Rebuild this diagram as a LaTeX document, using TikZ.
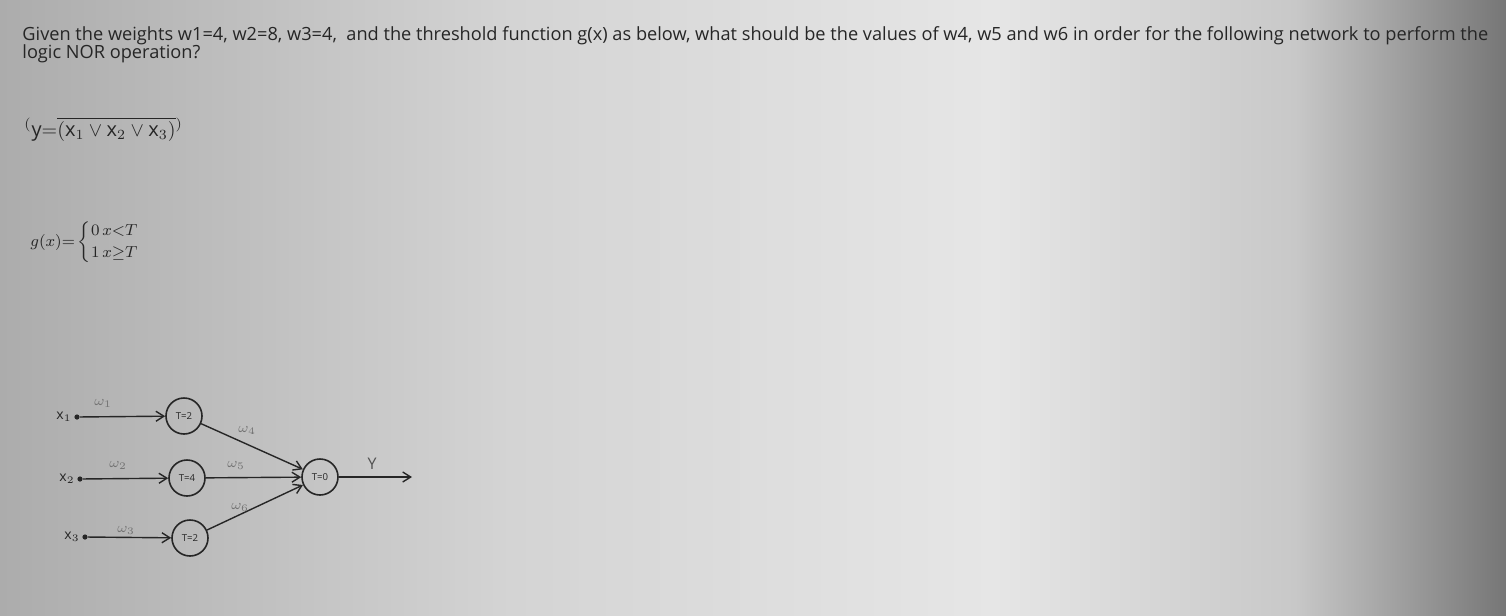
\documentclass[tikz,border=0pt]{standalone}
\usepackage{amsmath,amssymb}
\usepackage{fontspec}
\setmainfont{Open Sans}
\usetikzlibrary{positioning,arrows.meta}

\definecolor{bgleft}{RGB}{172,172,172}
\definecolor{bgmid}{RGB}{212,212,212}
\definecolor{bglight}{RGB}{230,230,230}
\definecolor{bgright}{RGB}{200,200,200}
\definecolor{bgedge}{RGB}{118,118,118}
\definecolor{ink}{RGB}{38,38,38}
\pgfdeclarehorizontalshading{screen}{100bp}{color(0bp)=(bgleft); color(25bp)=(bgleft);
  color(42bp)=(bgmid); color(58bp)=(bglight); color(68bp)=(bgright); color(75bp)=(bgedge); color(100bp)=(bgedge)}

\begin{document}
\begin{tikzpicture}[x=0.5pt,y=-0.5pt,
  neuron/.style={draw=ink, circle, line width=0.8pt, minimum size=18pt, inner sep=0pt, font=\fontsize{4.8}{5}\selectfont, text=ink},
  input/.style={circle, fill=ink, inner sep=0pt, minimum size=2.6pt},
  inlabel/.style={font=\fontsize{7}{8}\selectfont, text=ink, inner sep=0pt},
  wlabel/.style={font=\fontsize{7}{8}\selectfont, text=black!55},
  syn/.style={draw=ink, line width=0.7pt, -{Straight Barb[length=4pt,width=5pt]}}]

\shade[shading=screen] (0,0) rectangle (1506,616);
\useasboundingbox (0,0) rectangle (1506,616);

  % Question text
\node[anchor=base west, inner sep=0pt, text=ink, font=\fontsize{9.1}{10}\selectfont] (q1) at (22,40)
  {Given the weights w1=4, w2=8, w3=4,\ \ and the threshold function g(x) as below, what should be the values of w4, w5 and w6 in order for the following network to perform the};
\node[anchor=base west, inner sep=0pt, text=ink, font=\fontsize{9.1}{10}\selectfont] (q2) at (22,58) {logic NOR operation?};

\node[anchor=base west, inner sep=0pt, text=ink, font=\fontsize{10}{11}\selectfont] (nor) at (24,136)
  {$^{(}\mathrm{y}{=}\overline{(\mathrm{x}_1\vee\mathrm{x}_2\vee\mathrm{x}_3)}{}^{)}$};
\node[anchor=west, inner sep=0pt, text=ink, font=\fontsize{8.5}{9}\selectfont] (gx) at (30,242)
  {$g(x){=}\begin{cases}0\,x{<}T\\1\,x{\geq}T\end{cases}$};

  % Define nodes
\node[input] (x1) at (77,417) {};
\node[input] (x2) at (80,479) {};
\node[input] (x3) at (85,537) {};
\node[inlabel, left=1pt of x1] (lx1) {$\mathrm{x}_1$};
\node[inlabel, left=1pt of x2] (lx2) {$\mathrm{x}_2$};
\node[inlabel, left=1pt of x3] (lx3) {$\mathrm{x}_3$};

\node[neuron] (h1) at (184,416) {T=2};
\node[neuron] (h2) at (187,478) {T=4};
\node[neuron] (h3) at (190,538) {T=2};
\node[neuron] (o)  at (320,477) {T=0};
\coordinate (yout) at (412,477);

  % Connect the nodes
\draw[syn] (x1) -- (h1);
\draw[syn] (x2) -- (h2);
\draw[syn] (x3) -- (h3);
\draw[syn] (h1) -- (o);
\draw[syn] (h2) -- (o);
\draw[syn] (h3) -- (o);
\draw[syn] (o) -- (yout);

  % Weights
\node[wlabel] (w1) at (103,403) {$\omega_1$};
\node[wlabel] (w2) at (118,465) {$\omega_2$};
\node[wlabel] (w3) at (126,530) {$\omega_3$};
\node[wlabel] (w4) at (247,430) {$\omega_4$};
\node[wlabel] (w5) at (236,465) {$\omega_5$};
\node[wlabel] (w6) at (240,507) {$\omega_6$};
\node[inlabel, text=ink!80, font=\fontsize{8}{9}\selectfont] (ylab) at (372,464) {Y};

\end{tikzpicture}
\end{document}
